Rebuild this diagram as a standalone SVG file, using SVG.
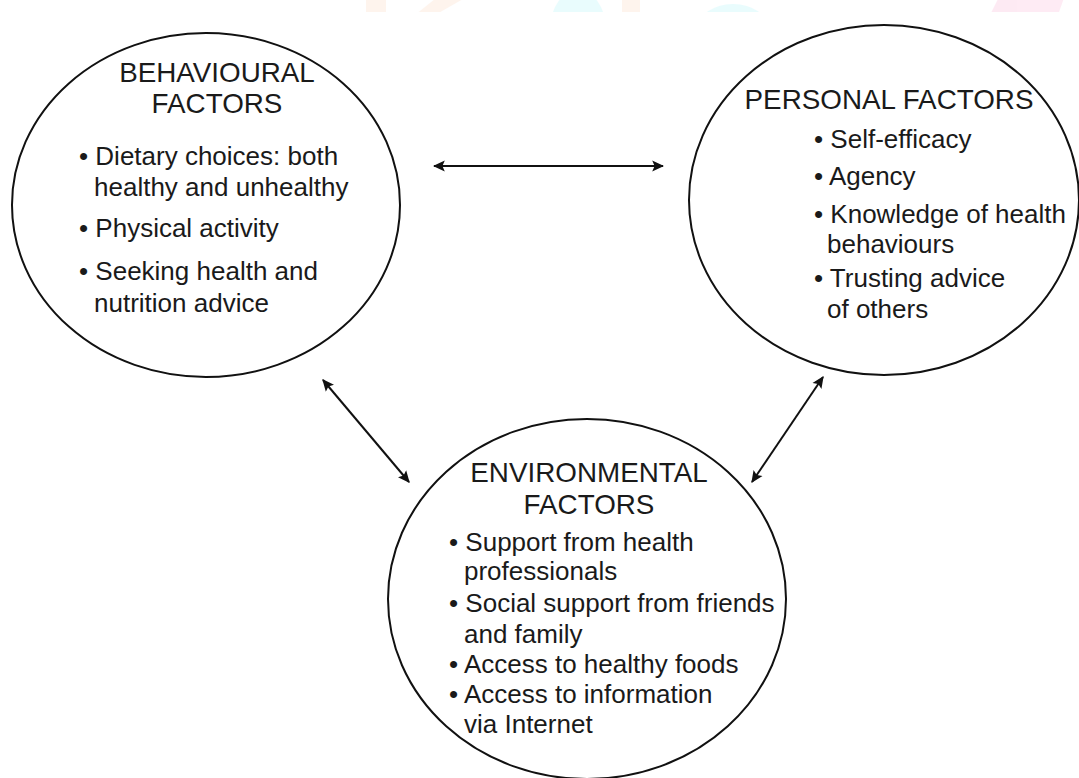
<svg xmlns="http://www.w3.org/2000/svg" width="1079" height="778" viewBox="0 0 1079 778">
  <style>
    .node ellipse { fill: #ffffff; stroke: #111111; stroke-width: 2; }
    .head { font-family: "Liberation Sans", Arial, sans-serif; font-size: 27.8px; fill: #1a1a1a; text-anchor: middle; }
    .body { font-family: "Liberation Sans", Arial, sans-serif; font-size: 26px; fill: #1a1a1a; }
    .conn { stroke: #111111; stroke-width: 2; fill: none; marker-start: url(#arrow); marker-end: url(#arrow); }
    .wm { opacity: 0.15; }
  </style>
  <defs>
    <marker id="arrow" viewBox="0 0 10 10" refX="9" refY="5" markerWidth="6" markerHeight="6" orient="auto-start-reverse" markerUnits="strokeWidth">
      <path d="M0,0.5 L10,5 L0,9.5 L2,5 Z" fill="#111111"/>
    </marker>
    <clipPath id="wmclip"><rect x="0" y="0" width="1079" height="12"/></clipPath>
  </defs>
  <rect x="0" y="0" width="1079" height="778" fill="#ffffff"/>

  <g id="watermark" class="wm" clip-path="url(#wmclip)">
    <rect x="366" y="-5" width="20" height="20" fill="#f9b98a"/>
    <polygon points="440,-5 470,-5 435,15 415,15" fill="#f9b98a"/>
    <ellipse cx="578" cy="30" rx="28" ry="40" fill="#6ff0f7"/>
    <rect x="622" y="-5" width="18" height="20" fill="#f9b98a"/>
    <ellipse cx="733" cy="30" rx="36" ry="26" fill="#6ff0f7"/>
    <polygon points="1000,-5 1065,-5 1058,15 990,15" fill="#f77ab6"/>
  </g>

  <g id="connectors">
    <line class="conn" x1="434" y1="166" x2="663" y2="166"/>
    <line class="conn" x1="323" y1="380" x2="409" y2="482"/>
    <line class="conn" x1="823" y1="377" x2="752" y2="482"/>
  </g>

  <g id="behavioural" class="node">
    <ellipse cx="206" cy="205" rx="194" ry="172"/>
    <text class="head" x="217" y="82">BEHAVIOURAL</text>
    <text class="head" x="217" y="113">FACTORS</text>
    <text class="body" x="79" y="165">• Dietary choices: both</text>
    <text class="body" x="94" y="196">healthy and unhealthy</text>
    <text class="body" x="79" y="237">• Physical activity</text>
    <text class="body" x="79" y="280">• Seeking health and</text>
    <text class="body" x="94" y="312">nutrition advice</text>
  </g>

  <g id="personal" class="node">
    <ellipse cx="884" cy="200" rx="195" ry="175"/>
    <text class="head" x="889" y="109">PERSONAL FACTORS</text>
    <text class="body" x="814" y="148">• Self-efficacy</text>
    <text class="body" x="814" y="185">• Agency</text>
    <text class="body" x="814" y="223">• Knowledge of health</text>
    <text class="body" x="827" y="253">behaviours</text>
    <text class="body" x="814" y="287">• Trusting advice</text>
    <text class="body" x="827" y="318">of others</text>
  </g>

  <g id="environmental" class="node">
    <ellipse cx="587" cy="599" rx="199" ry="180"/>
    <text class="head" x="589" y="482">ENVIRONMENTAL</text>
    <text class="head" x="589" y="514">FACTORS</text>
    <text class="body" x="449" y="551">• Support from health</text>
    <text class="body" x="464" y="580">professionals</text>
    <text class="body" x="449" y="612">• Social support from friends</text>
    <text class="body" x="464" y="643">and family</text>
    <text class="body" x="449" y="673">• Access to healthy foods</text>
    <text class="body" x="449" y="703">• Access to information</text>
    <text class="body" x="464" y="733">via Internet</text>
  </g>
</svg>
